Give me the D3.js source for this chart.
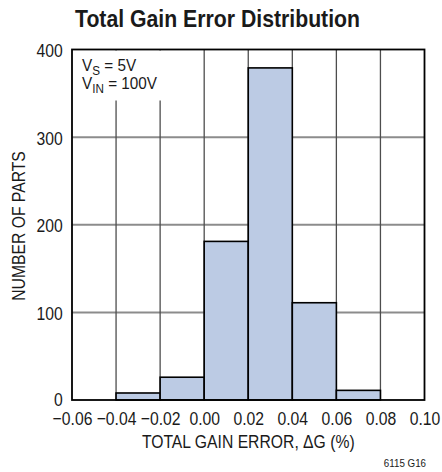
<!DOCTYPE html>
<html><head><meta charset="utf-8">
<script src="https://cdn.jsdelivr.net/npm/d3@7"></script>
<style>
body{margin:0;background:#fff;}
text{font-family:"Liberation Sans",Arial,sans-serif;fill:#1a1a1a;}
</style></head>
<body>
<svg id="c" width="442" height="472"></svg>
<script>
const binStarts = [-0.04, -0.02, 0.00, 0.02, 0.04, 0.06];
const binWidth = 0.02;
const counts = [8, 26, 181, 379, 111, 11];
const xTicks = [-0.06, -0.04, -0.02, 0.00, 0.02, 0.04, 0.06, 0.08, 0.10];
const yTicks = [0, 100, 200, 300, 400];

const svg = d3.select("#c");
const x = d3.scaleLinear().domain([-0.06, 0.10]).range([72, 424.5]);
const y = d3.scaleLinear().domain([0, 400]).range([400, 49.5]);
const SQ = "scale(0.85,1)";

// horizontal grid
svg.append("g").selectAll("line").data(yTicks.slice(1, -1)).join("line")
  .attr("x1", x.range()[0]).attr("x2", x.range()[1])
  .attr("y1", d => y(d)).attr("y2", d => y(d))
  .attr("stroke", "#8c8c8c").attr("stroke-width", 2);
// vertical grid
svg.append("g").selectAll("line").data(xTicks.slice(1, -1)).join("line")
  .attr("x1", d => x(d)).attr("x2", d => x(d))
  .attr("y1", y(400)).attr("y2", y(0))
  .attr("stroke", "#4d4d4d").attr("stroke-width", 1.3);

// legend background
svg.append("rect").attr("x", x(-0.06) + 1).attr("y", y(400) + 1)
  .attr("width", 100).attr("height", 50).attr("fill", "#fff");

// bars
svg.append("g").selectAll("rect").data(counts).join("rect")
  .attr("x", (d, i) => x(binStarts[i]))
  .attr("width", (d, i) => x(binStarts[i] + binWidth) - x(binStarts[i]))
  .attr("y", d => y(d)).attr("height", d => y(0) - y(d))
  .attr("fill", "#bccbe4").attr("stroke", "#000").attr("stroke-width", 1.6);

// frame
svg.append("rect").attr("x", x(-0.06)).attr("y", y(400))
  .attr("width", x(0.10) - x(-0.06)).attr("height", y(0) - y(400))
  .attr("fill", "none").attr("stroke", "#000").attr("stroke-width", 1.8);

// axes (labels only)
const fmtX = d => (d < 0 ? "\u2212" : "") + Math.abs(d).toFixed(2);
const gx = svg.append("g").attr("transform", `translate(0,${y(0)})`)
  .call(d3.axisBottom(x).tickValues(xTicks).tickFormat(fmtX).tickSize(0).tickPadding(11.5));
gx.select(".domain").remove();
gx.selectAll("text").attr("font-size", 18.5).attr("font-family", null).attr("fill", "#1a1a1a")
  .attr("transform", SQ);

const gy = svg.append("g").attr("transform", `translate(${x(-0.06)},0)`)
  .call(d3.axisLeft(y).tickValues(yTicks).tickFormat(d3.format("d")).tickSize(0).tickPadding(11));
gy.select(".domain").remove();
gy.selectAll("text").attr("font-size", 18.5).attr("font-family", null).attr("fill", "#1a1a1a")
  .attr("dy", "0.38em").attr("transform", SQ);
gy.selectAll(".tick").filter(d => d === 0).select("text").attr("dy", "0.3em");

// title
svg.append("text").attr("x", 75).attr("y", 27)
  .attr("font-size", 24).attr("font-weight", "bold").attr("fill", "#000")
  .attr("textLength", 285).attr("lengthAdjust", "spacingAndGlyphs")
  .text("Total Gain Error Distribution");

// axis titles
svg.append("text").attr("transform", `translate(${x(0.02)},448) ${SQ}`).attr("text-anchor", "middle")
  .attr("font-size", 18.5).text("TOTAL GAIN ERROR, \u0394G (%)");
svg.append("text").attr("transform", `translate(25,226) rotate(-90) ${SQ}`).attr("text-anchor", "middle")
  .attr("font-size", 18.5).text("NUMBER OF PARTS");

// legend text
const l1 = svg.append("text").attr("transform", "translate(82,71) scale(0.9,1)").attr("font-size", 17);
l1.append("tspan").text("V");
l1.append("tspan").attr("font-size", 13).attr("dy", 4).text("S");
l1.append("tspan").attr("dy", -4).text(" = 5V");
const l2 = svg.append("text").attr("transform", "translate(82,89) scale(0.9,1)").attr("font-size", 17);
l2.append("tspan").text("V");
l2.append("tspan").attr("font-size", 13).attr("dy", 4).text("IN");
l2.append("tspan").attr("dy", -4).text(" = 100V");

// figure id
svg.append("text").attr("transform", "translate(426,467) scale(0.85,1)").attr("text-anchor", "end")
  .attr("font-size", 11.5).text("6115 G16");
</script>
</body></html>
